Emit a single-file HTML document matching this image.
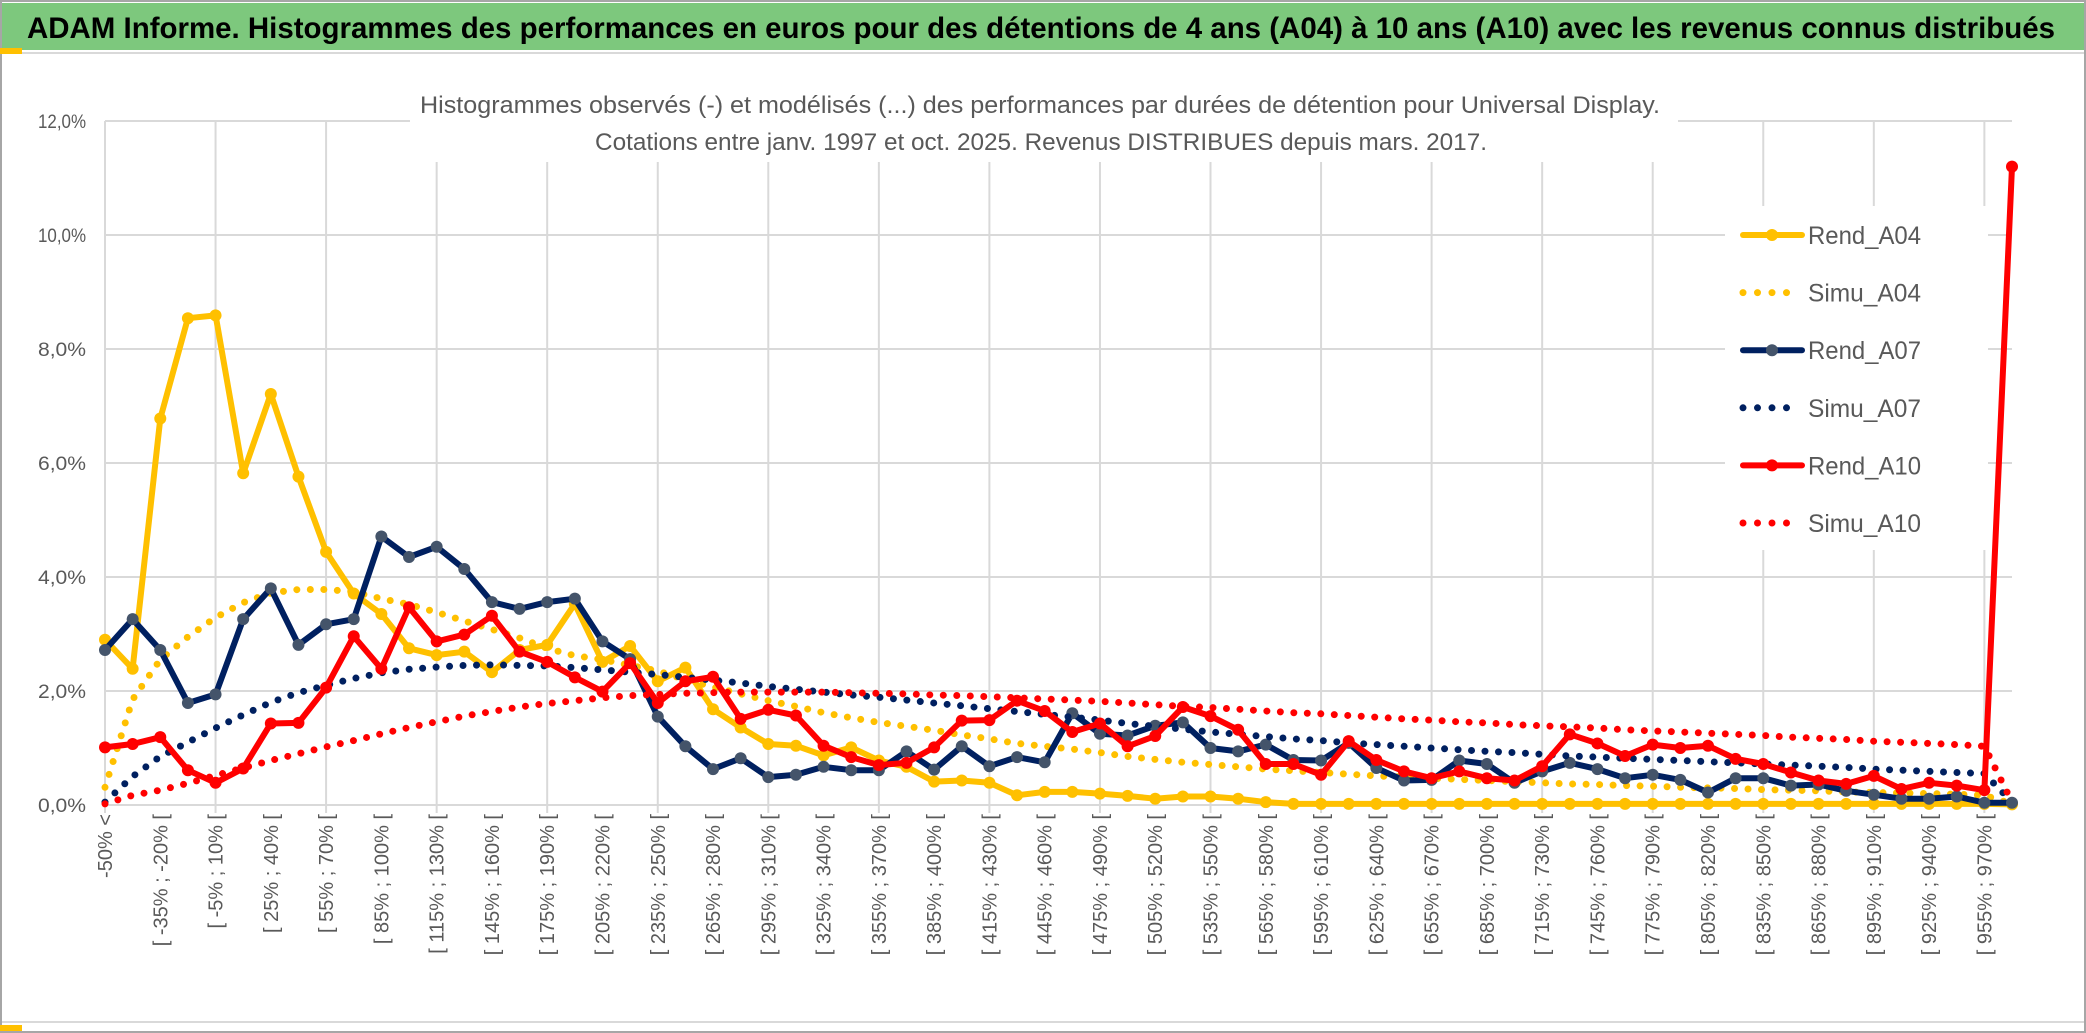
<!DOCTYPE html>
<html><head><meta charset="utf-8">
<style>
html,body{margin:0;padding:0;background:#fff;}
svg{display:block;font-family:"Liberation Sans",sans-serif;}
</style></head>
<body>
<svg id="chart" width="2086" height="1033" viewBox="0 0 2086 1033" xmlns="http://www.w3.org/2000/svg">
  <rect x="0" y="0" width="2086" height="1033" fill="#fff"/>
  <rect x="1" y="1" width="2084" height="1031" fill="none" stroke="#a6a6a6" stroke-width="2"/>
  <rect x="2" y="3" width="2082" height="47" fill="#7dc87d"/>
  <line x1="2" y1="53" x2="2084" y2="53" stroke="#d9d9d9" stroke-width="2"/>
  <rect x="0" y="48" width="22" height="6" fill="#ffc000"/>
  <rect x="0" y="1025" width="22" height="6" fill="#ffc000"/>
  <line x1="2" y1="1022" x2="2084" y2="1022" stroke="#d9d9d9" stroke-width="2"/>
  <text x="27" y="38" font-size="30" font-weight="bold" fill="#000" textLength="2028" lengthAdjust="spacingAndGlyphs">ADAM Informe. Histogrammes des performances en euros pour des détentions de 4 ans (A04) à 10 ans (A10) avec les revenus connus distribués</text>
  <g id="grid"></g>
  <rect x="410" y="72" width="1268" height="90" fill="#fff"/>
  <text x="1040" y="113" font-size="24" fill="#595959" text-anchor="middle" textLength="1240" lengthAdjust="spacingAndGlyphs">Histogrammes observés (-) et modélisés (...) des performances par durées de détention pour Universal Display.</text>
  <text x="1041" y="150" font-size="24" fill="#595959" text-anchor="middle" textLength="892" lengthAdjust="spacingAndGlyphs">Cotations entre janv. 1997 et oct. 2025. Revenus DISTRIBUES depuis mars. 2017.</text>
  <rect x="1725" y="206" width="263" height="344" fill="#fff"/>
  <g id="yaxis"></g>
  <g id="xaxis"></g>
  <g id="series"></g>
  <g id="legend"></g>
</svg>
<script>
const yTicks = [0, 2, 4, 6, 8, 10, 12];
const yTickLabels = ["0,0%", "2,0%", "4,0%", "6,0%", "8,0%", "10,0%", "12,0%"];
const categories = ["-50% <"];
for (let k = 1; k < 70; k++) { const lo = -50 + 15 * (k - 1); categories.push("[ " + lo + "% ; " + (lo + 15) + "% ["); }

const rendA04 = [2.90,2.39,6.78,8.54,8.59,5.82,7.21,5.76,4.44,3.71,3.35,2.75,2.63,2.69,2.33,2.72,2.81,3.53,2.51,2.79,2.17,2.41,1.68,1.36,1.07,1.04,0.87,1.01,0.78,0.67,0.41,0.43,0.39,0.17,0.23,0.23,0.20,0.16,0.11,0.15,0.15,0.11,0.05,0.02,0.02,0.02,0.02,0.02,0.02,0.02,0.02,0.02,0.02,0.02,0.02,0.02,0.02,0.02,0.02,0.02,0.02,0.02,0.02,0.02,0.02,0.02,0.02,0.02,0.02,0.01];
const simuA04 = [0.31,1.85,2.55,2.95,3.29,3.55,3.72,3.78,3.78,3.74,3.62,3.52,3.38,3.23,3.08,2.93,2.75,2.62,2.55,2.45,2.35,2.20,2.07,1.95,1.83,1.73,1.62,1.53,1.45,1.38,1.31,1.23,1.16,1.08,1.03,0.98,0.92,0.85,0.80,0.75,0.71,0.67,0.63,0.60,0.57,0.54,0.51,0.49,0.47,0.45,0.43,0.41,0.39,0.37,0.36,0.34,0.33,0.31,0.30,0.29,0.27,0.26,0.25,0.23,0.22,0.21,0.20,0.19,0.17,0.02];
const rendA07 = [2.72,3.26,2.72,1.79,1.94,3.26,3.80,2.81,3.17,3.26,4.71,4.35,4.53,4.14,3.56,3.44,3.56,3.62,2.87,2.56,1.55,1.03,0.63,0.82,0.49,0.53,0.67,0.61,0.61,0.94,0.62,1.03,0.68,0.84,0.75,1.61,1.25,1.22,1.39,1.45,1.00,0.94,1.06,0.79,0.78,1.09,0.65,0.43,0.44,0.78,0.72,0.39,0.59,0.74,0.63,0.47,0.53,0.44,0.22,0.47,0.47,0.34,0.36,0.25,0.18,0.11,0.11,0.15,0.04,0.04];
const simuA07 = [0.05,0.50,0.85,1.10,1.35,1.58,1.80,1.97,2.10,2.22,2.32,2.38,2.42,2.45,2.46,2.45,2.44,2.41,2.37,2.33,2.29,2.24,2.19,2.14,2.08,2.03,1.98,1.93,1.89,1.84,1.79,1.74,1.69,1.64,1.59,1.54,1.49,1.43,1.38,1.33,1.28,1.24,1.20,1.16,1.13,1.09,1.06,1.03,1.00,0.97,0.94,0.92,0.89,0.86,0.84,0.82,0.80,0.78,0.76,0.74,0.72,0.70,0.68,0.66,0.63,0.61,0.59,0.57,0.55,0.05];
const rendA10 = [1.01,1.07,1.19,0.61,0.39,0.64,1.43,1.44,2.06,2.96,2.39,3.47,2.87,2.99,3.32,2.69,2.51,2.24,1.99,2.49,1.79,2.17,2.25,1.51,1.67,1.57,1.04,0.84,0.70,0.74,1.01,1.48,1.49,1.83,1.65,1.28,1.43,1.03,1.21,1.72,1.56,1.32,0.72,0.72,0.53,1.12,0.79,0.59,0.47,0.59,0.47,0.43,0.68,1.24,1.08,0.86,1.06,1.00,1.04,0.81,0.72,0.57,0.43,0.37,0.51,0.28,0.39,0.34,0.26,11.2];
const simuA10 = [0.02,0.17,0.26,0.38,0.52,0.65,0.78,0.90,1.02,1.13,1.25,1.36,1.46,1.56,1.64,1.72,1.78,1.83,1.88,1.92,1.94,1.96,1.97,1.98,1.98,1.98,1.98,1.97,1.96,1.95,1.93,1.92,1.90,1.88,1.86,1.84,1.82,1.79,1.76,1.73,1.71,1.68,1.65,1.62,1.60,1.57,1.54,1.51,1.49,1.46,1.44,1.41,1.39,1.37,1.35,1.32,1.30,1.28,1.26,1.24,1.22,1.19,1.17,1.15,1.12,1.10,1.08,1.06,1.03,0.05];

const NS = "http://www.w3.org/2000/svg";
const plotL = 105, plotR = 2012, plotT = 121, plotB = 805, yMax = 12;
const n = categories.length;
function xPos(i) { return plotL + i * (plotR - plotL) / (n - 1); }
function yPos(v) { return plotB - v / yMax * (plotB - plotT); }
function mk(tag, attrs, parent) {
  const el = document.createElementNS(NS, tag);
  for (const k in attrs) el.setAttribute(k, attrs[k]);
  parent.appendChild(el);
  return el;
}
const grid = document.getElementById("grid");
const yaxis = document.getElementById("yaxis");
const xaxis = document.getElementById("xaxis");
const series = document.getElementById("series");
const legend = document.getElementById("legend");

yTicks.forEach((t, k) => {
  const ln = mk("line", {x1: plotL, x2: plotR, y1: yPos(t), y2: yPos(t), stroke: "#d9d9d9", "stroke-width": 2}, grid);
  
  
  const tx = mk("text", {x: 86, y: yPos(t) + 7, "font-size": 19, fill: "#595959", "text-anchor": "end", textLength: 48, lengthAdjust: "spacingAndGlyphs"}, yaxis);
  tx.textContent = yTickLabels[k];
  
  
});
for (let i = 0; i < n; i += 4) {
  const ln = mk("line", {x1: xPos(i), x2: xPos(i), y1: plotT, y2: plotB + 8, stroke: "#d9d9d9", "stroke-width": 2}, grid);
  
  
}
for (let i = 0; i < n; i += 2) {
  const x = xPos(i) + 7, y = 814;
  const tx = mk("text", {x: x, y: y, "font-size": 20, fill: "#595959", "text-anchor": "end", transform: "rotate(-90 " + x + " " + y + ")"}, xaxis);
  tx.textContent = categories[i];
  
  
}

function drawSeries(data, color, dotted, marker, name) {
  const pts = data.map((v, i) => xPos(i).toFixed(1) + "," + yPos(v).toFixed(1)).join(" ");
  const g = mk("g", {}, series);
  
  
  const attrs = dotted
    ? {points: pts, fill: "none", stroke: color, "stroke-width": 7, "stroke-linecap": "round", "stroke-dasharray": "0 13.5"}
    : {points: pts, fill: "none", stroke: color, "stroke-width": 6, "stroke-linejoin": "round"};
  const pl = mk("polyline", attrs, g);
  
  
  if (marker) {
    data.forEach((v, i) => {
      const c = mk("circle", {cx: xPos(i), cy: yPos(v), r: 6, fill: marker}, g);
      
      
    });
  }
}
drawSeries(rendA04, "#ffc000", false, "#ffc000", "rend-a04");
drawSeries(simuA04, "#ffc000", true, null, "simu-a04");
drawSeries(rendA07, "#002060", false, "#44546a", "rend-a07");
drawSeries(simuA07, "#002060", true, null, "simu-a07");
drawSeries(rendA10, "#ff0000", false, "#ff0000", "rend-a10");
drawSeries(simuA10, "#ff0000", true, null, "simu-a10");

const legendNames = ["Rend_A04", "Simu_A04", "Rend_A07", "Simu_A07", "Rend_A10", "Simu_A10"];
const legendColors = ["#ffc000", "#ffc000", "#002060", "#002060", "#ff0000", "#ff0000"];
const legendMarkers = ["#ffc000", null, "#44546a", null, "#ff0000", null];
legendNames.forEach((nm, k) => {
  const y = 235 + k * 57.6;
  const g = mk("g", {}, legend);
  
  
  const dotted = legendMarkers[k] === null;
  const ln = mk("line", dotted
    ? {x1: 1743, x2: 1800, y1: y, y2: y, stroke: legendColors[k], "stroke-width": 7, "stroke-linecap": "round", "stroke-dasharray": "0 14.5"}
    : {x1: 1743, x2: 1802, y1: y, y2: y, stroke: legendColors[k], "stroke-width": 6, "stroke-linecap": "round"}, g);
  
  
  if (!dotted) {
    const c = mk("circle", {cx: 1772, cy: y, r: 6, fill: legendMarkers[k]}, g);
    
    
  }
  const tx = mk("text", {x: 1808, y: y + 9, "font-size": 25, fill: "#595959", textLength: 113, lengthAdjust: "spacingAndGlyphs"}, g);
  tx.textContent = nm;
  
  
});
</script>
</body></html>
